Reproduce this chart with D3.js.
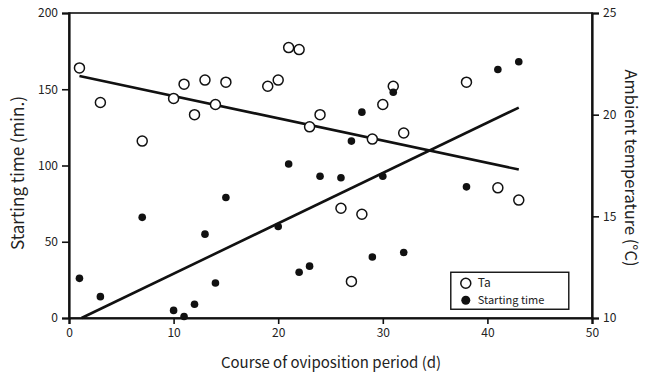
<!DOCTYPE html>
<html>
<head>
<meta charset="utf-8">
<script src="https://cdn.jsdelivr.net/npm/d3@7"></script>
<style>
  body { margin: 0; background: #fff; }
  text { font-family: "Noto Sans CJK JP", "Liberation Sans", sans-serif; fill: #222; }
  .tick text { font-size: 12px; }
  .axis-label { font-size: 15px; }
</style>
</head>
<body>
<div id="wrapper"></div>
<script>
// Day of oviposition period
const taDays = [1, 3, 7, 10, 11, 12, 13, 14, 15, 19, 20, 21, 22, 23, 24, 26, 27, 28, 29, 30, 31, 32, 38, 41, 43];
// Ambient temperature (deg C)
const taValues = [22.3, 20.6, 18.7, 20.8, 21.5, 20.0, 21.7, 20.5, 21.6, 21.4, 21.7, 23.3, 23.2, 19.4, 20.0, 15.4, 11.8, 15.1, 18.8, 20.5, 21.4, 19.1, 21.6, 16.4, 15.8];

const startDays = [1, 3, 7, 10, 11, 12, 13, 14, 15, 20, 21, 22, 23, 24, 26, 27, 28, 29, 30, 31, 32, 38, 41, 43];
// Starting time (min.)
const startValues = [26, 14, 66, 5, 1, 9, 55, 23, 79, 60, 101, 30, 34, 93, 92, 116, 135, 40, 93, 148, 43, 86, 163, 168];

// regression lines, [day, value] endpoints
const taLine = [[1, 21.9], [43, 17.3]];
const startLine = [[1.2, 0], [43, 138]];

const xTicks = [0, 10, 20, 30, 40, 50];
const yLeftTicks = [0, 50, 100, 150, 200];
const yRightTicks = [10, 15, 20, 25];

function drawChart() {
  let dimensions = {
    width: 646,
    height: 373,
    margin: { top: 13, bottom: 55, left: 69, right: 54 },
  };
  dimensions.boundedWidth = dimensions.width - dimensions.margin.left - dimensions.margin.right;
  dimensions.boundedHeight = dimensions.height - dimensions.margin.top - dimensions.margin.bottom;

  const wrapper = d3.select("#wrapper")
    .append("svg")
    .attr("width", dimensions.width)
    .attr("height", dimensions.height);

  const bounds = wrapper.append("g")
    .attr("transform", `translate(${dimensions.margin.left},${dimensions.margin.top})`);

  const xScale = d3.scaleLinear().domain([0, 50]).range([0, dimensions.boundedWidth]);
  const yScale = d3.scaleLinear().domain([0, 200]).range([dimensions.boundedHeight, 0]);
  const tScale = d3.scaleLinear().domain([10, 25]).range([dimensions.boundedHeight, 0]);

  // frame
  bounds.append("rect")
    .attr("width", dimensions.boundedWidth)
    .attr("height", dimensions.boundedHeight)
    .attr("fill", "none")
    .attr("stroke", "#111")
    .attr("stroke-width", 1.6);

  // axes
  const xAxis = bounds.append("g")
    .attr("transform", `translate(0,${dimensions.boundedHeight})`)
    .call(d3.axisBottom(xScale).tickValues(xTicks).tickSize(6).tickPadding(4));
  const yAxis = bounds.append("g")
    .call(d3.axisLeft(yScale).tickValues(yLeftTicks).tickSize(7).tickPadding(4));
  const tAxis = bounds.append("g")
    .attr("transform", `translate(${dimensions.boundedWidth},0)`)
    .call(d3.axisRight(tScale).tickValues(yRightTicks).tickSize(7).tickPadding(4));

  [xAxis, yAxis, tAxis].forEach((a) => {
    a.select(".domain").attr("stroke", "#111").attr("stroke-width", 2.2);
    a.selectAll(".tick line").attr("stroke", "#111").attr("stroke-width", 1.6);
    a.selectAll(".tick text").attr("fill", "#333");
  });

  // regression lines
  const lineX = (d) => xScale(d[0]);
  bounds.append("path")
    .datum(taLine)
    .attr("d", d3.line().x(lineX).y((d) => tScale(d[1])))
    .attr("fill", "none")
    .attr("stroke", "#111")
    .attr("stroke-width", 2.6);
  bounds.append("path")
    .datum(startLine)
    .attr("d", d3.line().x(lineX).y((d) => yScale(d[1])))
    .attr("fill", "none")
    .attr("stroke", "#111")
    .attr("stroke-width", 2.6);

  // points
  bounds.append("g").selectAll("circle")
    .data(taDays)
    .join("circle")
    .attr("cx", (d) => xScale(d))
    .attr("cy", (d, i) => tScale(taValues[i]))
    .attr("r", 5)
    .attr("fill", "#fff")
    .attr("stroke", "#111")
    .attr("stroke-width", 1.5);

  bounds.append("g").selectAll("circle")
    .data(startDays)
    .join("circle")
    .attr("cx", (d) => xScale(d))
    .attr("cy", (d, i) => yScale(startValues[i]))
    .attr("r", 3.8)
    .attr("fill", "#111");

  // legend
  const legend = bounds.append("g").attr("transform", `translate(${xScale(36.5)},${yScale(30)})`);
  legend.append("rect")
    .attr("width", 118)
    .attr("height", 37)
    .attr("fill", "#fff")
    .attr("stroke", "#111")
    .attr("stroke-width", 1.4);
  legend.append("circle").attr("cx", 15).attr("cy", 11).attr("r", 5)
    .attr("fill", "#fff").attr("stroke", "#111").attr("stroke-width", 1.5);
  legend.append("circle").attr("cx", 15).attr("cy", 28).attr("r", 4.5).attr("fill", "#111");
  legend.append("text").attr("x", 27).attr("y", 15).style("font-size", "12px").text("Ta");
  legend.append("text").attr("x", 27).attr("y", 32).style("font-size", "11px").text("Starting time");

  // axis labels
  wrapper.append("text")
    .attr("class", "axis-label")
    .style("font-size", "17px")
    .attr("transform", `translate(24,173) rotate(-90)`)
    .attr("text-anchor", "middle")
    .text("Starting time (min.)");
  wrapper.append("text")
    .attr("class", "axis-label")
    .style("font-size", "16.5px")
    .attr("transform", `translate(625,168) rotate(90)`)
    .attr("text-anchor", "middle")
    .text("Ambient temperature (°C)");
  wrapper.append("text")
    .attr("class", "axis-label")
    .attr("x", 331)
    .attr("y", 368)
    .attr("text-anchor", "middle")
    .text("Course of oviposition period (d)");
}

drawChart();
</script>
</body>
</html>
